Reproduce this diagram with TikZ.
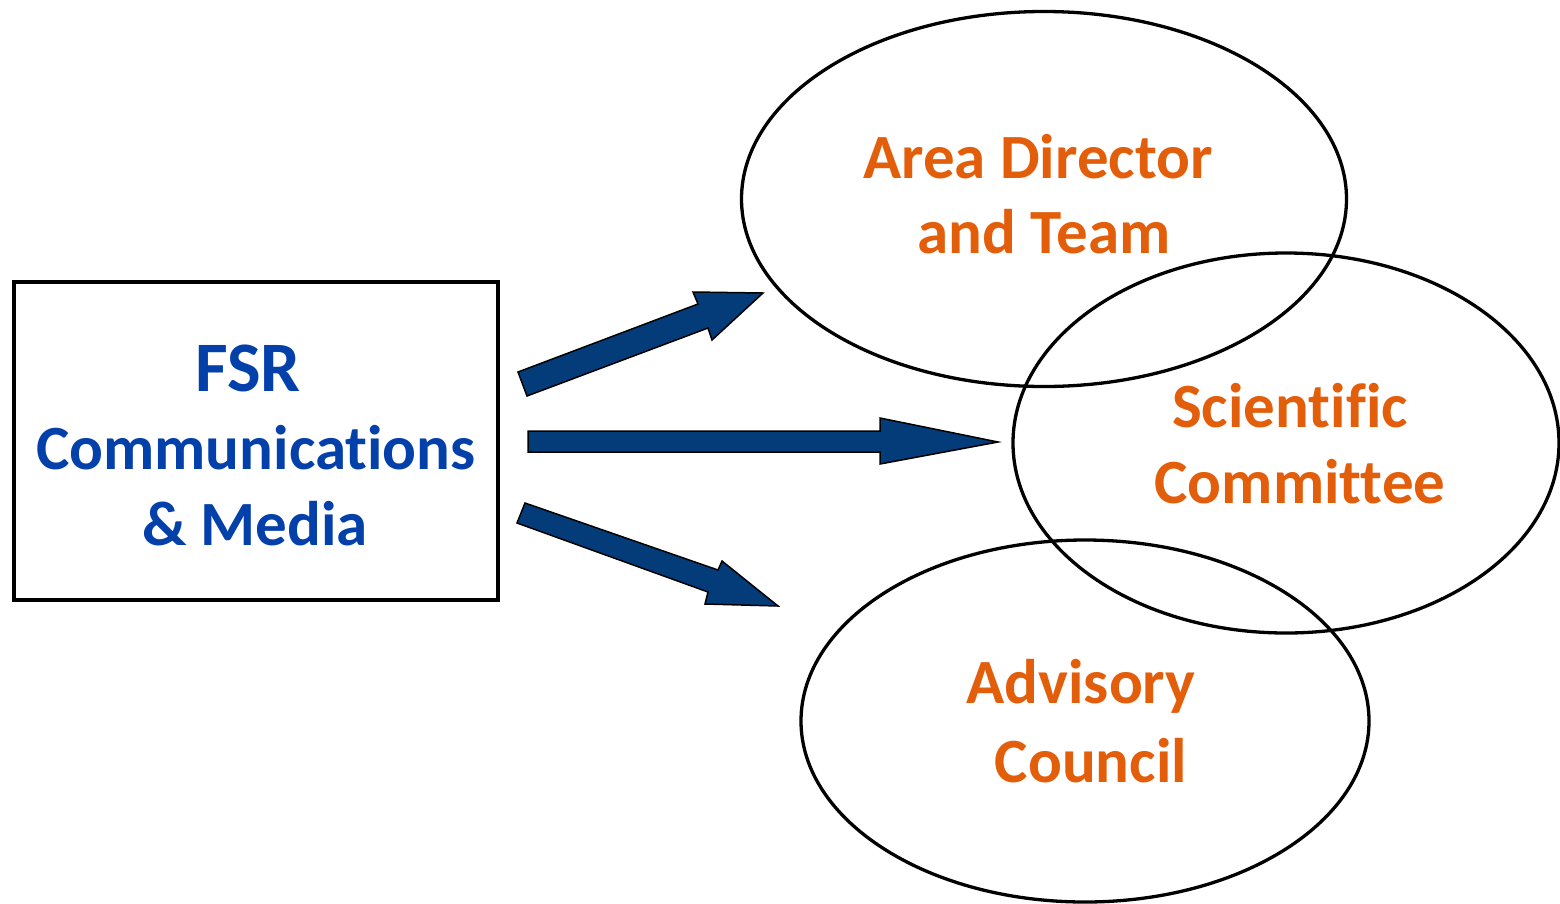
\documentclass[tikz,border=0pt]{standalone}
\usepackage{fontspec}
\setmainfont[Ligatures={NoCommon}]{Carlito}
\usetikzlibrary{shapes.geometric}

\definecolor{arrowblue}{RGB}{3,60,121}
\definecolor{textblue}{RGB}{4,64,170}
\definecolor{textorange}{RGB}{227,94,10}

\tikzset{
  blockarrow/.style={fill=arrowblue, draw=black, line width=1.5pt, line join=miter},
  group/.style={draw=black, line width=3.3pt, ellipse, inner sep=0pt, outer sep=0pt},
  labelline/.style={anchor=base, inner sep=0pt, font=\fontsize{63}{76}\selectfont\bfseries},
  orangeline/.style={labelline, text=textorange},
  blueline/.style={labelline, text=textblue},
}

\begin{document}
\begin{tikzpicture}[x=1pt, y=-1pt]
  \useasboundingbox (0,0) rectangle (1560,903);

  % source box
  \node[draw=black, line width=3.3pt, minimum width=484pt, minimum height=318pt,
        inner sep=0pt] (box) at (256,441) {};
  \node[blueline, font=\fontsize{71}{85}\selectfont\bfseries] (fsr) at (248,391) {FSR};
  \node[blueline] (comm) at (256,469) {Communications};
  \node[blueline] (media) at (255,545) {\& Media};

  % target groups
  \node[group, minimum width=605pt, minimum height=375pt] (area) at (1044,199) {};
  \node[group, minimum width=546pt, minimum height=380pt] (sci) at (1286,443) {};
  \node[group, minimum width=568pt, minimum height=362pt] (adv) at (1085,721) {};

  \node[orangeline] (area1) at (1038,178) {Area Director};
  \node[orangeline] (area2) at (1044,253) {and Team};
  \node[orangeline] (sci1) at (1290,427) {Scientific};
  \node[orangeline] (sci2) at (1300,503) {Committee};
  \node[orangeline] (adv1) at (1081,703) {Advisory};
  \node[orangeline] (adv2) at (1091,782) {Council};

  % block arrows from the box towards the groups
  \draw[blockarrow] (518,372) -- (698,304) -- (693,292) -- (763,293)
        -- (712,340) -- (708,328) -- (527,396) -- cycle;
  \draw[blockarrow] (528,431) -- (880,431) -- (880,418) -- (998,442)
        -- (880,464) -- (880,452) -- (528,452) -- cycle;
  \draw[blockarrow] (525,503) -- (718,570) -- (722,561) -- (778,606)
        -- (705,604) -- (708,592) -- (517,523) -- cycle;
\end{tikzpicture}
\end{document}
